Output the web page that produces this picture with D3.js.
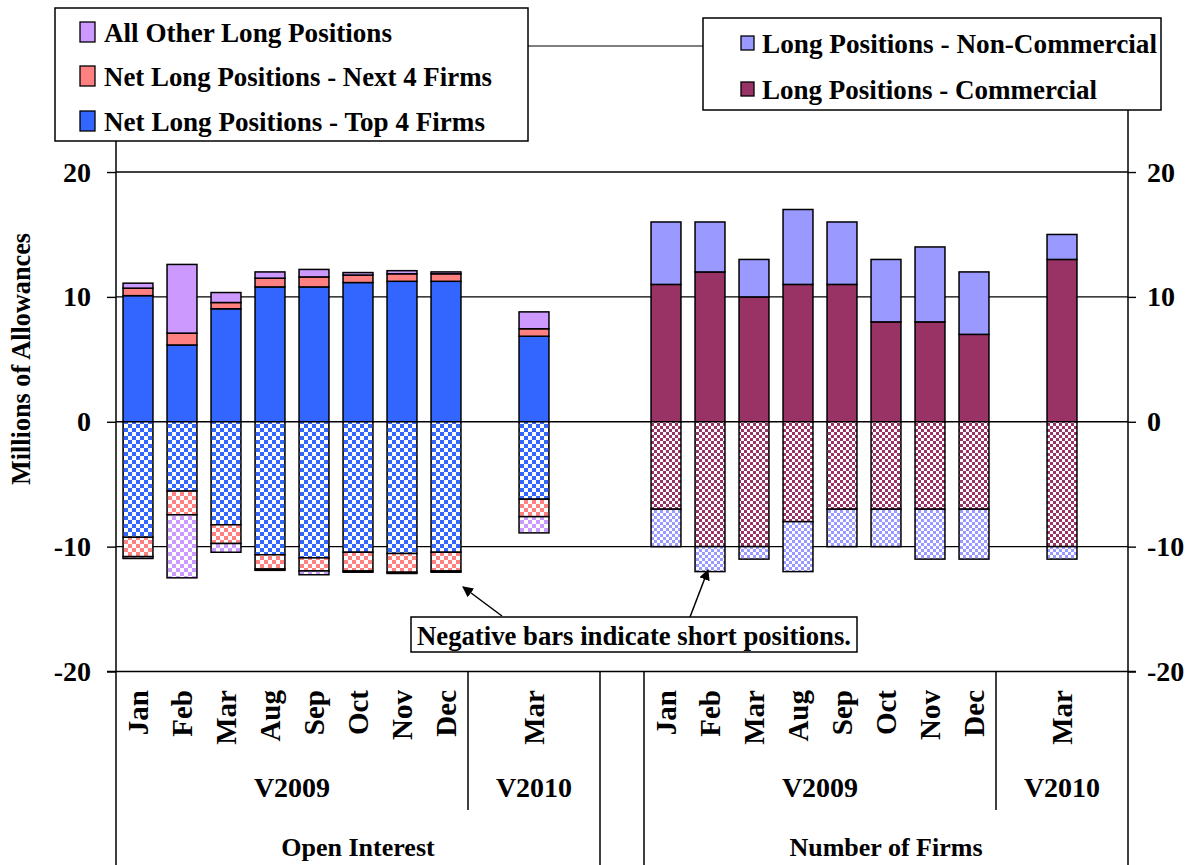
<!DOCTYPE html>
<html><head><meta charset="utf-8">
<script src="https://cdn.jsdelivr.net/npm/d3@7"></script>
<style>
body{margin:0;background:#fff}
svg{display:block}
text{font-family:"Liberation Serif","Times New Roman",serif;font-weight:bold;fill:#000}
</style>
</head><body><svg id="c" width="1189" height="865"></svg>
<script>
// ---------------- data ----------------
const months2009 = ["Jan","Feb","Mar","Aug","Sep","Oct","Nov","Dec"];
const months2010 = ["Mar"];
const groups = ["Open Interest","Number of Firms"];
const years = ["V2009","V2010"];
const yTicks = [-20,-10,0,10,20];

// Open Interest (millions of allowances) – long side
const oiTop4Long  = [10.1, 6.15, 9.05, 10.8, 10.8, 11.15, 11.25, 11.25, 6.85];
const oiNext4Long = [0.6, 0.95, 0.5, 0.7, 0.8, 0.6, 0.6, 0.6, 0.6];
const oiOtherLong = [0.4, 5.5, 0.8, 0.5, 0.6, 0.2, 0.25, 0.15, 1.35];
// Open Interest – short side
const oiTop4Short  = [9.25, 5.55, 8.25, 10.65, 10.9, 10.45, 10.55, 10.45, 6.2];
const oiNext4Short = [1.55, 1.9, 1.5, 1.15, 1.05, 1.5, 1.5, 1.5, 1.4];
const oiOtherShort = [0.15, 5.05, 0.7, 0.1, 0.3, 0.1, 0.1, 0.1, 1.3];
// Number of firms
const firmsCommLong     = [11, 12, 10, 11, 11, 8, 8, 7, 13];
const firmsNonCommLong  = [5, 4, 3, 6, 5, 5, 6, 5, 2];
const firmsCommShort    = [7, 10, 10, 8, 7, 7, 7, 7, 10];
const firmsNonCommShort = [3, 2, 1, 4, 3, 3, 4, 4, 1];

const legendLeft  = ["All Other Long Positions","Net Long Positions - Next 4 Firms","Net Long Positions - Top 4 Firms"];
const legendRight = ["Long Positions - Non-Commercial","Long Positions - Commercial"];
const yTitle = "Millions of Allowances";
const note = "Negative bars indicate short positions.";

// ---------------- styles ----------------
const C = {top4:"#3366FF", next4:"#FF8080", other:"#CC99FF", comm:"#993366", noncomm:"#9999FF"};

// ---------------- slots ----------------
const slots = [];
groups.forEach((g,gi)=>{
  months2009.forEach(m=>slots.push(g+"|V2009|"+m));
  slots.push(g+"|V2010|_a"); slots.push(g+"|V2010|Mar"); slots.push(g+"|V2010|_b");
  if(gi===0) slots.push("gap");
});
const dataKeys = g => months2009.map(m=>g+"|V2009|"+m).concat(months2010.map(m=>g+"|V2010|"+m));

const svg = d3.select("#c");
const L = 116, R = 1128, Y0 = 671.5, YT = 109.6;
const pad = 0.32;
const x = d3.scaleBand().domain(slots).range([L,R]).paddingInner(pad).paddingOuter(pad/2);
const y = d3.scaleLinear().domain([-20,25]).range([Y0,YT]);
const step = x.step();
const bnd = k => x(k) - step*pad/2;

// patterns
const defs = svg.append("defs");
function checker(id,color,c){
  const p = defs.append("pattern").attr("id",id).attr("patternUnits","userSpaceOnUse")
    .attr("width",2*c).attr("height",2*c);
  p.append("rect").attr("width",2*c).attr("height",2*c).attr("fill","#fff");
  p.append("rect").attr("width",c).attr("height",c).attr("fill",color);
  p.append("rect").attr("x",c).attr("y",c).attr("width",c).attr("height",c).attr("fill",color);
}
checker("pTop4",C.top4,4); checker("pNext4",C.next4,4); checker("pOther",C.other,4);
checker("pComm",C.comm,3); checker("pNonComm",C.noncomm,3);
defs.append("marker").attr("id","arr").attr("viewBox","0 0 10 10").attr("refX",9).attr("refY",5)
  .attr("markerWidth",11).attr("markerHeight",11).attr("markerUnits","userSpaceOnUse").attr("orient","auto")
  .append("path").attr("d","M0,0L10,5L0,10z").attr("fill","#000");

// gridlines
svg.append("g").selectAll("line").data(yTicks.filter(t=>t>-20)).join("line")
  .attr("x1",L).attr("x2",R).attr("y1",d=>y(d)).attr("y2",d=>y(d))
  .attr("stroke","#000").attr("stroke-width",1.4);

// axes
const fmt = d => String(d);
const axL = svg.append("g").attr("transform",`translate(${L},0)`)
  .call(d3.axisLeft(y).tickValues(yTicks).tickSize(9).tickPadding(16).tickFormat(fmt));
const axR = svg.append("g").attr("transform",`translate(${R},0)`)
  .call(d3.axisRight(y).tickValues(yTicks).tickSize(8).tickPadding(11).tickFormat(fmt));
[axL,axR].forEach(a=>{
  a.select(".domain").remove();
  a.attr("font-family",null).attr("font-size",null);
  a.selectAll("line").attr("stroke","#000").attr("stroke-width",1.4);
  a.selectAll("text").attr("font-size",28).attr("fill","#000");
});
svg.append("line").attr("x1",L-9).attr("x2",R+8).attr("y1",y(-20)).attr("y2",y(-20)).attr("stroke","#000").attr("stroke-width",1.6);

// bars
function drawStack(keys, seriesArr, fills, sign){
  const recs = keys.map((k,i)=>{const o={key:k}; seriesArr.forEach((s,j)=>o["s"+j]=s[i]); return o;});
  const st = d3.stack().keys(seriesArr.map((s,j)=>"s"+j))(recs);
  const g = svg.append("g");
  st.forEach((layer,j)=>{
    g.selectAll(null).data(layer).join("rect")
      .attr("x",d=>x(d.data.key)).attr("width",x.bandwidth())
      .attr("y",d=>sign>0?y(d[1]):y(-d[0]))
      .attr("height",d=>Math.abs(y(d[0])-y(d[1])))
      .attr("fill",fills[j]).attr("stroke","#000").attr("stroke-width",1.5);
  });
}
const oiK = dataKeys(groups[0]), nfK = dataKeys(groups[1]);
drawStack(oiK,[oiTop4Long,oiNext4Long,oiOtherLong],[C.top4,C.next4,C.other],1);
drawStack(oiK,[oiTop4Short,oiNext4Short,oiOtherShort],["url(#pTop4)","url(#pNext4)","url(#pOther)"],-1);
drawStack(nfK,[firmsCommLong,firmsNonCommLong],[C.comm,C.noncomm],1);
drawStack(nfK,[firmsCommShort,firmsNonCommShort],["url(#pComm)","url(#pNonComm)"],-1);

// vertical frame / category dividers
const vl = (xx,y1,y2)=>svg.append("line").attr("x1",xx).attr("x2",xx).attr("y1",y1).attr("y2",y2).attr("stroke","#000").attr("stroke-width",1.5);
vl(L,YT,865); vl(R,YT,865);
vl(bnd(groups[0]+"|V2010|_a"),Y0,810);
vl(bnd("gap"),Y0,865);
vl(bnd(groups[1]+"|V2009|Jan"),Y0,865);
vl(bnd(groups[1]+"|V2010|_a"),Y0,810);

// category labels
const catG = svg.append("g");
groups.forEach(g=>{
  dataKeys(g).forEach(k=>{
    const m = k.split("|")[2];
    const cx = x(k)+x.bandwidth()/2;
    catG.append("text").attr("transform",`translate(${cx+9.5},690) rotate(-90)`)
      .attr("text-anchor","end").attr("font-size",29).text(m);
  });
  const a9 = bnd(g+"|V2009|Jan"), b9 = bnd(g+"|V2010|_a"), e10 = b9 + 3*step;
  catG.append("text").attr("x",(a9+b9)/2).attr("y",797).attr("text-anchor","middle").attr("font-size",28).text(years[0]);
  catG.append("text").attr("x",(b9+e10)/2).attr("y",797).attr("text-anchor","middle").attr("font-size",28).text(years[1]);
  catG.append("text").attr("x",(a9+e10)/2).attr("y",856).attr("text-anchor","middle").attr("font-size",26).text(g);
});

// y title
svg.append("text").attr("transform","translate(30,359) rotate(-90)").attr("text-anchor","middle")
  .attr("font-size",27).attr("textLength",252).attr("lengthAdjust","spacingAndGlyphs").text(yTitle);

// connector lines
svg.append("line").attr("x1",528).attr("x2",703).attr("y1",46).attr("y2",46).attr("stroke","#555").attr("stroke-width",1.5);

// legend left
svg.append("rect").attr("x",55).attr("y",8).attr("width",473).attr("height",133).attr("fill","#fff").attr("stroke","#000").attr("stroke-width",1.5);
const lf = [C.other,C.next4,C.top4], lw = [288,388,381], ly=[32,76,121];
legendLeft.forEach((t,i)=>{
  svg.append("rect").attr("x",80).attr("y",ly[i]-10).attr("width",15).attr("height",20).attr("fill",lf[i]).attr("stroke","#000").attr("stroke-width",1.3);
  svg.append("text").attr("x",104).attr("y",ly[i]+9.5).attr("font-size",28).attr("textLength",lw[i]).attr("lengthAdjust","spacingAndGlyphs").text(t);
});
// legend right
svg.append("rect").attr("x",703).attr("y",18).attr("width",458).attr("height",92).attr("fill","#fff").attr("stroke","#000").attr("stroke-width",1.5);
const rf = [C.noncomm,C.comm], rw=[395,335], ry=[43,89];
legendRight.forEach((t,i)=>{
  svg.append("rect").attr("x",741).attr("y",ry[i]-7).attr("width",13).attr("height",14).attr("fill",rf[i]).attr("stroke","#000").attr("stroke-width",1.3);
  svg.append("text").attr("x",762).attr("y",ry[i]+9.5).attr("font-size",28).attr("textLength",rw[i]).attr("lengthAdjust","spacingAndGlyphs").text(t);
});

// annotation
svg.append("line").attr("x1",502).attr("y1",616).attr("x2",463).attr("y2",587).attr("stroke","#000").attr("stroke-width",1.5).attr("marker-end","url(#arr)");
svg.append("line").attr("x1",690).attr("y1",617).attr("x2",708).attr("y2",570).attr("stroke","#000").attr("stroke-width",1.5).attr("marker-end","url(#arr)");
svg.append("rect").attr("x",411).attr("y",617).attr("width",446).attr("height",35).attr("fill","#fff").attr("stroke","#000").attr("stroke-width",1.5);
svg.append("text").attr("x",634).attr("y",644.5).attr("text-anchor","middle").attr("font-size",28)
  .attr("textLength",434).attr("lengthAdjust","spacingAndGlyphs").text(note);
</script>
</body></html>
